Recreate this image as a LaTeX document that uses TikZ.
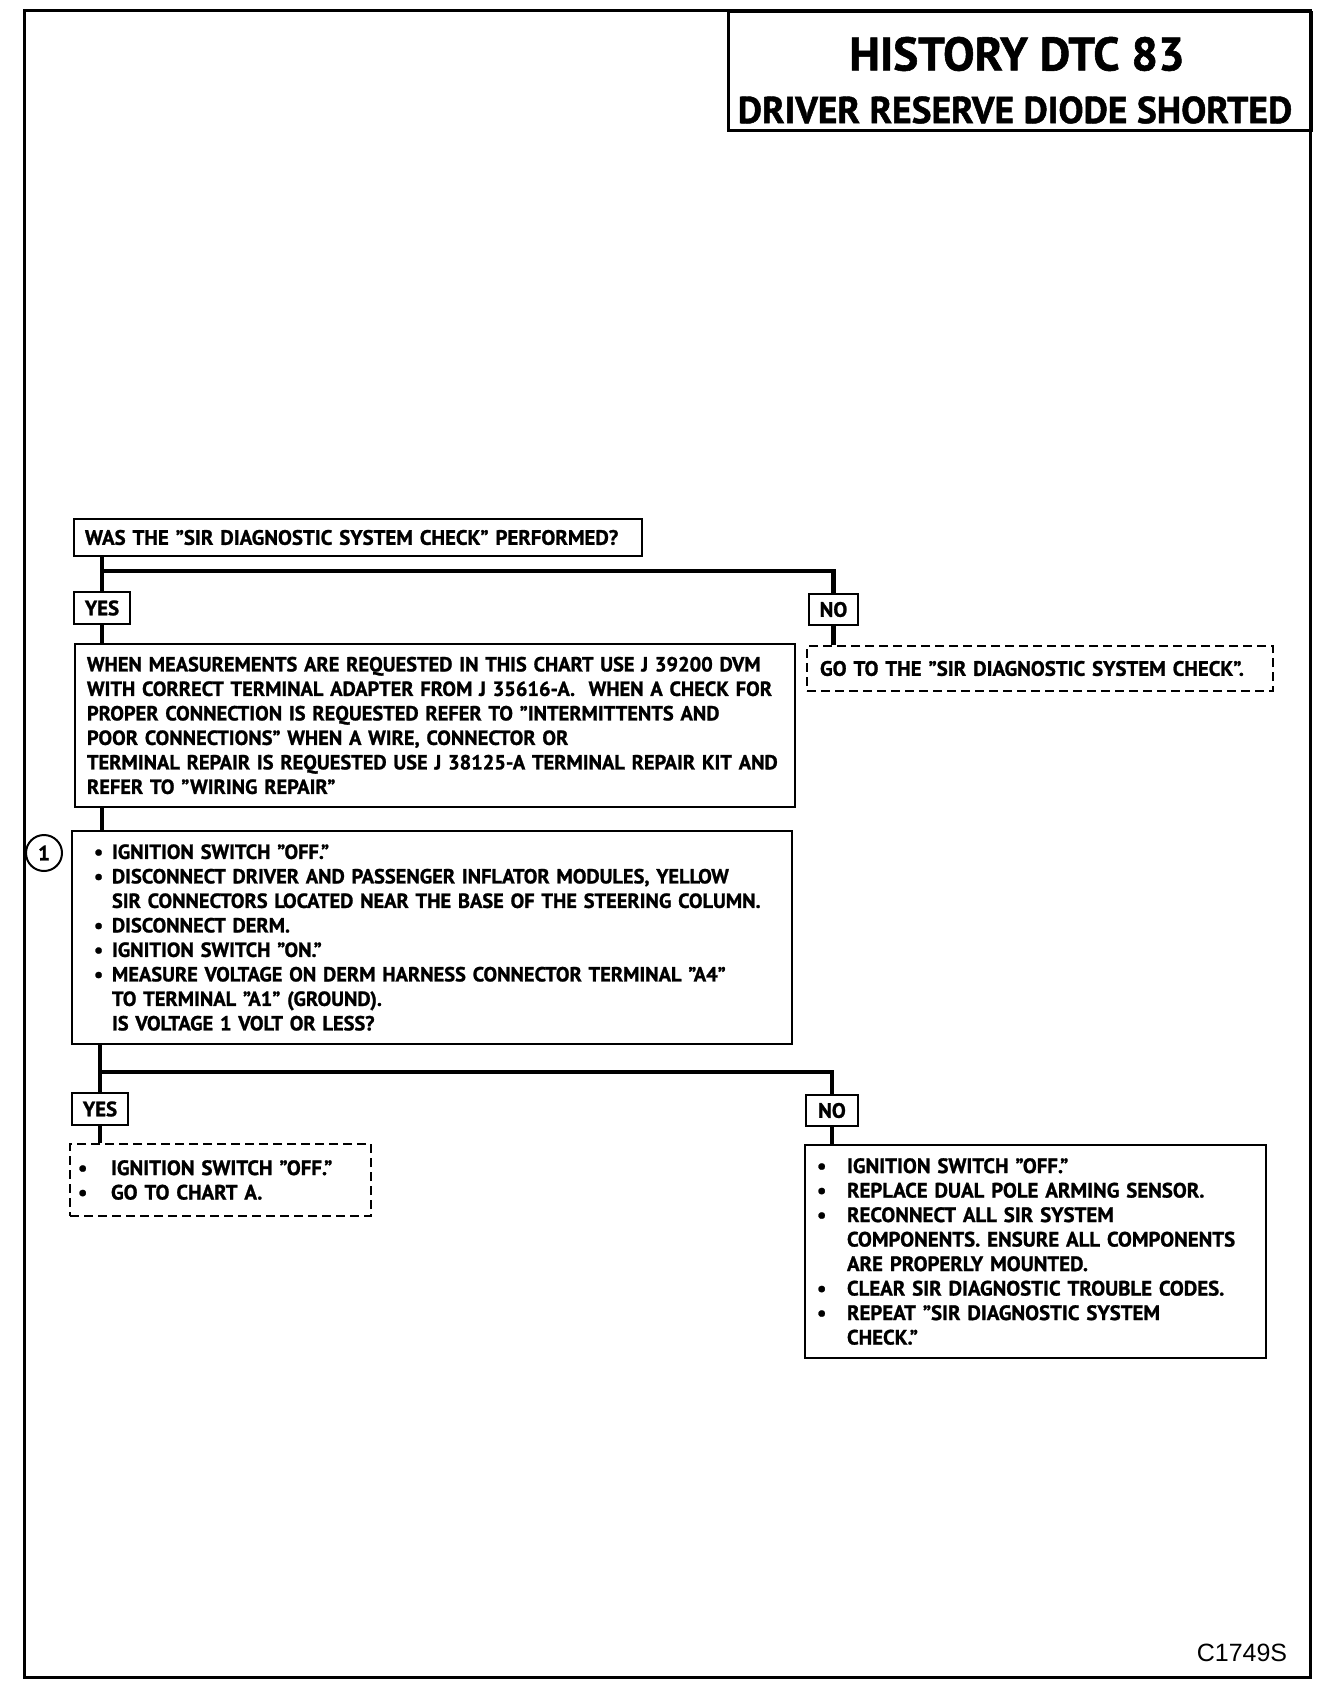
\documentclass[tikz,border=0pt]{standalone}
\usepackage{fontspec}
\setmainfont{PT Sans}[BoldFeatures={FakeBold=1.2}]
\newfontfamily\libsans{Liberation Sans}
\newcommand\bl[1]{\makebox[#1][l]{\textbullet}}
\newcommand\ind[1]{\hspace*{#1}}
\newcommand\lne[1]{\mbox{#1}}
\begin{document}
\begin{tikzpicture}[x=1pt,y=-1pt,
  txt/.style={font=\bfseries\fontsize{20.8}{24.5}\selectfont},
  txs/.style={font=\bfseries\fontsize{20.4}{24.5}\selectfont},
  box/.style={draw,line width=2pt,anchor=north west,inner ysep=0pt,align=left,txt},
  dbox/.style={box,dashed,dash pattern=on 9pt off 5pt},
  lab/.style={draw,line width=2pt,anchor=north west,inner sep=0pt,align=center,txt},
  conn/.style={line width=4.5pt},
]
\useasboundingbox (0,0) rectangle (1328,1686);
% outer frame
\draw[line width=3pt] (24,11) rectangle (1310,1677);
% title
\node[draw,line width=2.5pt,anchor=north west,minimum width=583pt,minimum height=118pt,inner sep=0pt] (title) at (727,11) {};
\node[font=\bfseries\fontsize{47}{50}\selectfont,inner sep=0pt] (t1) at (1017,54) {HISTORY DTC 83};
\node[font=\bfseries\fontsize{37.5}{40}\selectfont,inner sep=0pt] (t2) at (1015,110) {DRIVER RESERVE DIODE SHORTED};
% first question
\node[box,inner xsep=11pt,text width=546pt,minimum height=37pt] (box1) at (73,518)
  {\lne{WAS THE "SIR DIAGNOSTIC SYSTEM CHECK" PERFORMED?}};
\node[lab,minimum width=56pt,minimum height=32pt] (yes1) at (73,591) {YES};
\node[lab,minimum width=49pt,minimum height=31pt] (no1) at (808,593) {NO};
\coordinate (bar1) at (0,571);
\node[box,txs,inner xsep=12pt,text width=696pt,minimum height=163pt] (box2) at (74,643)
  {\lne{WHEN MEASUREMENTS ARE REQUESTED IN THIS CHART USE J 39200 DVM}\\
   \lne{WITH CORRECT TERMINAL ADAPTER FROM J 35616-A.\ \ WHEN A CHECK FOR}\\
   \lne{PROPER CONNECTION IS REQUESTED REFER TO "INTERMITTENTS AND}\\
   \lne{POOR CONNECTIONS" WHEN A WIRE, CONNECTOR OR}\\
   \lne{TERMINAL REPAIR IS REQUESTED USE J 38125-A TERMINAL REPAIR KIT AND}\\
   \lne{REFER TO "WIRING REPAIR"}};
\node[dbox,inner xsep=13pt,text width=440pt,minimum height=45pt] (nores) at (806,645)
  {\lne{GO TO THE "SIR DIAGNOSTIC SYSTEM CHECK".}};
% step 1
\node[box,txs,inner xsep=22pt,text width=676pt,minimum height=213pt] (box3) at (71,830)
  {\lne{\bl{18pt}IGNITION SWITCH "OFF."}\\
   \lne{\bl{18pt}DISCONNECT DRIVER AND PASSENGER INFLATOR MODULES, YELLOW}\\
   \lne{\ind{18pt}SIR CONNECTORS LOCATED NEAR THE BASE OF THE STEERING COLUMN.}\\
   \lne{\bl{18pt}DISCONNECT DERM.}\\
   \lne{\bl{18pt}IGNITION SWITCH "ON."}\\
   \lne{\bl{18pt}MEASURE VOLTAGE ON DERM HARNESS CONNECTOR TERMINAL "A4"}\\
   \lne{\ind{18pt}TO TERMINAL "A1" (GROUND).}\\
   \lne{\ind{18pt}IS VOLTAGE 1 VOLT OR LESS?}};
\node[draw,circle,line width=2pt,minimum size=36pt,inner sep=0pt,txt] (c1) at (44,853) {1};
\node[lab,minimum width=56pt,minimum height=32pt] (yes2) at (71,1092) {YES};
\node[lab,minimum width=52pt,minimum height=31pt] (no2) at (805,1094) {NO};
\coordinate (bar2) at (0,1072);
\node[dbox,inner xsep=8pt,text width=285pt,minimum height=72pt] (yesres) at (69,1143)
  {\lne{\bl{33pt}IGNITION SWITCH "OFF."}\\
   \lne{\bl{33pt}GO TO CHART A.}};
\node[box,inner xsep=12pt,text width=437pt,minimum height=213pt] (nores2) at (804,1144)
  {\lne{\bl{30pt}IGNITION SWITCH "OFF."}\\
   \lne{\bl{30pt}REPLACE DUAL POLE ARMING SENSOR.}\\
   \lne{\bl{30pt}RECONNECT ALL SIR SYSTEM}\\
   \lne{\ind{30pt}COMPONENTS. ENSURE ALL COMPONENTS}\\
   \lne{\ind{30pt}ARE PROPERLY MOUNTED.}\\
   \lne{\bl{30pt}CLEAR SIR DIAGNOSTIC TROUBLE CODES.}\\
   \lne{\bl{30pt}REPEAT "SIR DIAGNOSTIC SYSTEM}\\
   \lne{\ind{30pt}CHECK."}};
\node[font=\libsans\fontsize{25}{27}\selectfont,inner sep=0pt] (code) at (1242,1653) {C1749S};
% connectors
\draw[conn] (box1.south -| yes1) -- (yes1.north);
\draw[conn] (yes1 |- bar1) -| (no1.north);
\draw[conn] (yes1.south) -- (box2.north -| yes1.south);
\draw[conn] (no1.south) -- (nores.north -| no1.south);
\draw[conn] (box2.south -| yes1) -- (box3.north -| yes1);
\draw[conn] (box3.south -| yes2) -- (yes2.north);
\draw[conn] (yes2 |- bar2) -| (no2.north);
\draw[conn] (yes2.south) -- (yesres.north -| yes2.south);
\draw[conn] (no2.south) -- (nores2.north -| no2.south);
\end{tikzpicture}
\end{document}
